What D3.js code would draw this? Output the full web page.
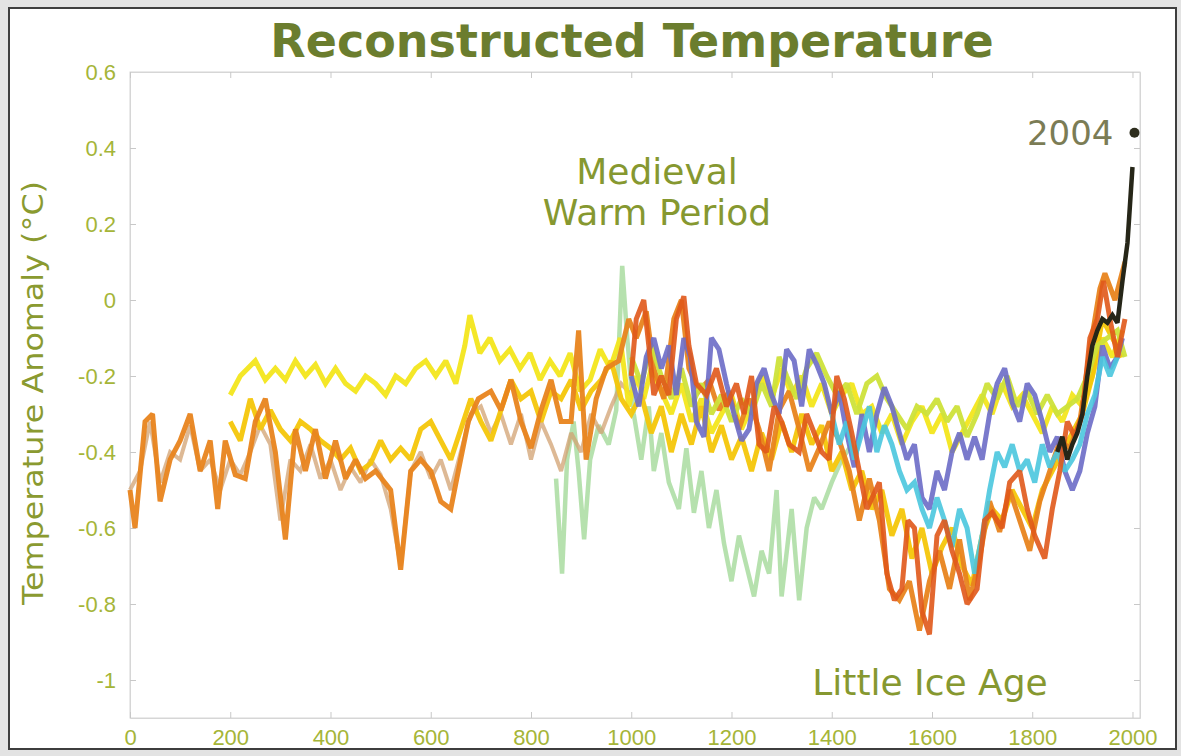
<!DOCTYPE html>
<html>
<head>
<meta charset="utf-8">
<script src="https://cdn.jsdelivr.net/npm/d3@7"></script>
<style>
  html, body { margin: 0; padding: 0; background: #e3e3e3; }
  svg { display: block; }
</style>
</head>
<body>
<svg id="chart" width="1181" height="756"></svg>
<script>
// ---- Tick labels -------------------------------------------------------
const yTicks = [-1, -0.8, -0.6, -0.4, -0.2, 0, 0.2, 0.4, 0.6];
const xTicks = [0, 200, 400, 600, 800, 1000, 1200, 1400, 1600, 1800, 2000];

// ---- Reconstructions (year, anomaly °C) --------------------------------
const tanYears = [0,20,40,60,80,100,120,140,160,180,200,220,240,260,280,300,320,340,360,380,400,420,440,460,480,500,520,540,560,580,600,620,640,660,680,700,720,740,760,780,800,820,840,860,880,900,920,940,960,980,1000];
const tanValues = [-0.5,-0.45,-0.32,-0.48,-0.4,-0.42,-0.33,-0.45,-0.42,-0.5,-0.42,-0.46,-0.4,-0.33,-0.38,-0.58,-0.42,-0.45,-0.38,-0.47,-0.42,-0.5,-0.44,-0.48,-0.42,-0.46,-0.55,-0.7,-0.45,-0.4,-0.47,-0.42,-0.5,-0.4,-0.3,-0.28,-0.35,-0.3,-0.38,-0.3,-0.42,-0.32,-0.38,-0.45,-0.35,-0.4,-0.3,-0.35,-0.28,-0.22,-0.25];

const orangeYears = [0,10,30,45,60,80,100,120,140,160,175,190,210,230,250,270,290,310,330,350,370,390,410,430,450,470,490,520,540,560,580,600,620,640,655,675,695,720,740,760,780,800,820,840,860,880,895,910,930,950,975,995,1010,1030,1045,1065,1085,1100,1115,1135,1155,1175,1195,1215,1235,1255,1275,1295,1315,1335,1355,1375,1395,1415,1435,1455,1475,1495,1515,1535,1555,1575,1595,1615,1635,1655,1675,1695,1715,1735,1755,1775,1795,1815,1835,1855,1875,1895,1915,1935,1945,1965,1985];
const orangeValues = [-0.5,-0.6,-0.32,-0.3,-0.53,-0.42,-0.37,-0.3,-0.45,-0.37,-0.55,-0.37,-0.46,-0.47,-0.32,-0.26,-0.4,-0.63,-0.34,-0.45,-0.34,-0.47,-0.37,-0.47,-0.42,-0.47,-0.45,-0.5,-0.71,-0.45,-0.42,-0.45,-0.53,-0.55,-0.45,-0.32,-0.26,-0.24,-0.29,-0.21,-0.32,-0.39,-0.29,-0.21,-0.32,-0.32,-0.08,-0.42,-0.26,-0.18,-0.16,-0.05,-0.1,-0.03,-0.18,-0.26,-0.05,0.0,-0.18,-0.24,-0.21,-0.29,-0.24,-0.34,-0.26,-0.34,-0.45,-0.29,-0.24,-0.34,-0.45,-0.39,-0.32,-0.37,-0.45,-0.58,-0.47,-0.58,-0.76,-0.79,-0.74,-0.87,-0.74,-0.66,-0.76,-0.63,-0.79,-0.68,-0.53,-0.61,-0.5,-0.58,-0.66,-0.53,-0.45,-0.37,-0.39,-0.32,-0.13,0.03,0.07,0.0,0.1];

const yellowYears = [200,220,250,270,290,310,330,350,370,390,410,430,450,470,490,510,530,550,570,590,610,630,650,668,678,698,718,738,758,778,798,818,838,858,878,898,918,938,958,978,995,1010,1025,1040,1060,1080,1100,1120,1140,1160,1180,1200,1220,1240,1260,1280,1300,1320,1340,1360,1380,1400,1420,1440,1460,1480,1500,1520,1540,1560,1580,1600,1620,1640,1660,1680,1700,1720,1740,1760,1780,1800,1820,1840,1860,1880,1900,1920,1940,1960,1980];
const yellowValues = [-0.25,-0.2,-0.16,-0.21,-0.18,-0.21,-0.16,-0.2,-0.17,-0.22,-0.18,-0.22,-0.24,-0.2,-0.22,-0.25,-0.2,-0.22,-0.18,-0.16,-0.2,-0.16,-0.22,-0.12,-0.04,-0.14,-0.1,-0.16,-0.13,-0.18,-0.14,-0.21,-0.16,-0.2,-0.14,-0.24,-0.21,-0.13,-0.18,-0.1,-0.28,-0.2,-0.26,-0.18,-0.24,-0.3,-0.22,-0.32,-0.26,-0.35,-0.3,-0.25,-0.34,-0.28,-0.2,-0.26,-0.18,-0.25,-0.2,-0.28,-0.22,-0.3,-0.25,-0.22,-0.3,-0.28,-0.35,-0.3,-0.38,-0.32,-0.28,-0.35,-0.3,-0.4,-0.35,-0.3,-0.25,-0.3,-0.22,-0.28,-0.25,-0.3,-0.35,-0.28,-0.32,-0.25,-0.28,-0.2,-0.1,-0.15,-0.08];

const amberYears = [200,220,240,260,280,300,320,340,360,380,400,420,440,460,480,500,520,540,560,580,600,620,640,660,680,700,720,740,760,780,800,820,840,860,880,900,920,940,960,980,1000,1020,1040,1060,1080,1100,1120,1140,1160,1180,1200,1220,1240,1260,1280,1300,1320,1340,1360,1380,1400,1420,1440,1460,1480,1500,1520,1540,1560,1580,1600,1620,1640,1660,1680,1700,1720,1740,1760,1780,1800,1820,1840,1860,1880,1900,1920,1940,1960,1980];
const amberValues = [-0.32,-0.37,-0.26,-0.34,-0.29,-0.34,-0.37,-0.32,-0.34,-0.37,-0.39,-0.42,-0.39,-0.45,-0.43,-0.37,-0.42,-0.39,-0.42,-0.34,-0.32,-0.37,-0.42,-0.34,-0.26,-0.32,-0.37,-0.29,-0.21,-0.26,-0.24,-0.32,-0.24,-0.26,-0.21,-0.29,-0.24,-0.21,-0.16,-0.26,-0.3,-0.25,-0.35,-0.28,-0.4,-0.3,-0.38,-0.28,-0.4,-0.33,-0.42,-0.36,-0.45,-0.35,-0.42,-0.32,-0.4,-0.3,-0.38,-0.33,-0.45,-0.4,-0.5,-0.45,-0.55,-0.5,-0.62,-0.55,-0.68,-0.6,-0.72,-0.65,-0.6,-0.7,-0.75,-0.62,-0.55,-0.58,-0.5,-0.55,-0.6,-0.5,-0.45,-0.4,-0.35,-0.3,-0.2,-0.05,-0.1,-0.15];

const greenYears = [850,862,872,885,895,906,918,935,955,970,982,992,1005,1020,1035,1045,1060,1075,1095,1110,1125,1140,1155,1170,1185,1200,1215,1230,1245,1260,1275,1290,1300,1320,1335,1350,1365,1380,1400,1420,1440];
const greenValues = [-0.47,-0.72,-0.42,-0.32,-0.45,-0.63,-0.42,-0.33,-0.38,-0.29,0.09,-0.1,-0.3,-0.42,-0.28,-0.45,-0.35,-0.48,-0.55,-0.39,-0.56,-0.45,-0.6,-0.5,-0.64,-0.74,-0.62,-0.7,-0.78,-0.66,-0.72,-0.5,-0.78,-0.55,-0.79,-0.6,-0.52,-0.55,-0.48,-0.42,-0.38];

const blueYears = [1000,1015,1030,1045,1060,1075,1090,1105,1118,1130,1145,1160,1175,1190,1205,1220,1235,1250,1265,1280,1295,1310,1325,1340,1355,1370,1385,1400,1415,1430,1445,1460,1475,1490,1505,1520,1535,1550,1565,1580,1595,1610,1625,1640,1655,1670,1685,1700,1715,1730,1745,1760,1775,1790,1805,1820,1835,1850,1865,1880,1895,1910,1925,1940,1955,1970,1980];
const blueValues = [-0.2,-0.28,-0.15,-0.1,-0.18,-0.12,-0.25,-0.1,-0.15,-0.32,-0.36,-0.1,-0.13,-0.22,-0.3,-0.37,-0.34,-0.22,-0.18,-0.25,-0.3,-0.13,-0.16,-0.28,-0.13,-0.17,-0.22,-0.3,-0.24,-0.35,-0.44,-0.3,-0.4,-0.3,-0.23,-0.28,-0.35,-0.42,-0.38,-0.52,-0.55,-0.45,-0.5,-0.4,-0.35,-0.42,-0.36,-0.42,-0.3,-0.22,-0.18,-0.27,-0.32,-0.22,-0.25,-0.32,-0.4,-0.36,-0.45,-0.5,-0.45,-0.35,-0.28,-0.12,-0.18,-0.15,-0.1];

const cyanYears = [1400,1415,1430,1445,1460,1475,1490,1505,1520,1535,1550,1565,1580,1595,1610,1625,1640,1655,1670,1685,1700,1715,1730,1745,1760,1775,1790,1805,1820,1835,1850,1865,1880,1895,1910,1925,1940,1955,1970];
const cyanValues = [-0.3,-0.38,-0.32,-0.42,-0.35,-0.28,-0.4,-0.33,-0.38,-0.45,-0.5,-0.48,-0.55,-0.6,-0.52,-0.58,-0.65,-0.55,-0.6,-0.72,-0.62,-0.5,-0.4,-0.44,-0.38,-0.45,-0.42,-0.48,-0.38,-0.44,-0.4,-0.45,-0.42,-0.38,-0.3,-0.25,-0.15,-0.2,-0.15];

const limeYears = [1000,1020,1040,1060,1080,1100,1120,1140,1160,1180,1200,1220,1240,1260,1280,1295,1310,1330,1350,1370,1390,1410,1430,1450,1470,1490,1510,1530,1550,1570,1590,1610,1630,1650,1670,1690,1710,1730,1750,1770,1790,1810,1830,1850,1870,1890,1910,1930,1950,1970,1985];
const limeValues = [-0.15,-0.22,-0.12,-0.2,-0.26,-0.18,-0.28,-0.22,-0.3,-0.25,-0.32,-0.26,-0.3,-0.22,-0.28,-0.15,-0.2,-0.26,-0.18,-0.14,-0.2,-0.25,-0.22,-0.3,-0.22,-0.2,-0.26,-0.3,-0.34,-0.28,-0.3,-0.26,-0.32,-0.28,-0.36,-0.3,-0.22,-0.26,-0.2,-0.28,-0.24,-0.3,-0.25,-0.3,-0.28,-0.26,-0.2,-0.12,-0.1,-0.08,-0.15];

const redYears = [1000,1010,1025,1035,1045,1060,1075,1090,1105,1115,1130,1150,1170,1190,1210,1225,1240,1255,1270,1285,1300,1315,1335,1350,1365,1380,1395,1410,1425,1440,1455,1470,1495,1510,1525,1540,1552,1565,1580,1595,1610,1625,1640,1655,1670,1690,1705,1720,1740,1755,1775,1790,1805,1825,1840,1855,1870,1885,1900,1915,1930,1942,1955,1970,1985];
const redValues = [-0.2,-0.05,0.0,-0.12,-0.25,-0.2,-0.25,-0.05,0.01,-0.12,-0.22,-0.25,-0.18,-0.28,-0.22,-0.3,-0.2,-0.38,-0.4,-0.28,-0.32,-0.38,-0.4,-0.3,-0.35,-0.4,-0.42,-0.2,-0.26,-0.35,-0.45,-0.55,-0.48,-0.72,-0.79,-0.76,-0.58,-0.6,-0.82,-0.88,-0.62,-0.58,-0.66,-0.72,-0.8,-0.76,-0.58,-0.56,-0.6,-0.48,-0.45,-0.55,-0.62,-0.68,-0.55,-0.45,-0.32,-0.36,-0.3,-0.1,-0.05,0.05,-0.05,-0.15,-0.05];

const instrumentalYears = [1850,1860,1870,1880,1890,1900,1910,1920,1930,1940,1950,1960,1970,1980,1990,2000];
const instrumentalValues = [-0.4,-0.36,-0.42,-0.38,-0.35,-0.3,-0.2,-0.12,-0.08,-0.05,-0.06,-0.04,-0.06,0.05,0.15,0.35];

const latestYear = [2004];
const latestValue = [0.44];

// Series table: drawing order, colour and stroke per reconstruction
const series = [
  { years: greenYears,  values: greenValues,  color: "#a9dca0", width: 4.5, opacity: 0.85 },
  { years: tanYears,    values: tanValues,    color: "#d2a272", width: 4,   opacity: 0.75 },
  { years: yellowYears, values: yellowValues, color: "#f3e61c", width: 5,   opacity: 0.95 },
  { years: amberYears,  values: amberValues,  color: "#f4c60a", width: 5,   opacity: 0.95 },
  { years: orangeYears, values: orangeValues, color: "#e8841e", width: 5,   opacity: 0.95 },
  { years: limeYears,   values: limeValues,   color: "#cde23a", width: 5,   opacity: 0.95 },
  { years: blueYears,   values: blueValues,   color: "#6c6cc6", width: 5,   opacity: 0.9 },
  { years: cyanYears,   values: cyanValues,   color: "#4ac6de", width: 5,   opacity: 0.9 },
  { years: redYears,    values: redValues,    color: "#e0581a", width: 5,   opacity: 0.9 },
  { years: instrumentalYears, values: instrumentalValues, color: "#262618", width: 4.5, opacity: 1 }
];

// ---- Layout -------------------------------------------------------------
const svg = d3.select("#chart");
const W = 1181, H = 756;
const plot = { left: 130, right: 1140, top: 72, bottom: 718 };

// page frame
svg.append("rect").attr("x", 0).attr("y", 0).attr("width", W).attr("height", H).attr("fill", "#e3e3e3");
svg.append("rect").attr("x", 9).attr("y", 8).attr("width", 1167).attr("height", 741)
  .attr("fill", "#ffffff").attr("stroke", "#3e3e3e").attr("stroke-width", 2);

const x = d3.scaleLinear().domain([0, 2015]).range([plot.left, plot.right]);
const y = d3.scaleLinear().domain([-1.1, 0.6]).range([plot.bottom, plot.top]);

// plot box
svg.append("rect")
  .attr("x", plot.left).attr("y", plot.top)
  .attr("width", plot.right - plot.left).attr("height", plot.bottom - plot.top)
  .attr("fill", "none").attr("stroke", "#d6d6d6").attr("stroke-width", 1);

const labelColor = "#a5b538";
const fmtY = d => d === 0 ? "0" : (d === -1 ? "-1" : d.toFixed(1));

// left axis
const yAxis = svg.append("g").attr("transform", `translate(${plot.left},0)`)
  .call(d3.axisLeft(y).tickValues(yTicks).tickFormat(fmtY).tickSizeInner(-6).tickSizeOuter(0).tickPadding(14));
yAxis.select(".domain").attr("stroke", "#d6d6d6");
yAxis.selectAll(".tick line").attr("stroke", "#c8c8c8");
yAxis.selectAll(".tick text").attr("fill", labelColor)
  .style("font-family", "'Liberation Sans', Arial, sans-serif").style("font-size", "22px");

// right axis ticks (inward, no labels)
const yAxisR = svg.append("g").attr("transform", `translate(${plot.right},0)`)
  .call(d3.axisRight(y).tickValues(yTicks).tickFormat("").tickSizeInner(-6).tickSizeOuter(0));
yAxisR.select(".domain").attr("stroke", "#d6d6d6");
yAxisR.selectAll(".tick line").attr("stroke", "#c8c8c8");

// bottom axis
const xAxis = svg.append("g").attr("transform", `translate(0,${plot.bottom})`)
  .call(d3.axisBottom(x).tickValues(xTicks).tickFormat(d3.format("d")).tickSizeInner(-6).tickSizeOuter(0).tickPadding(11));
xAxis.select(".domain").attr("stroke", "#d6d6d6");
xAxis.selectAll(".tick line").attr("stroke", "#c8c8c8");
xAxis.selectAll(".tick text").attr("fill", labelColor)
  .style("font-family", "'Liberation Sans', Arial, sans-serif").style("font-size", "22px");

// top axis ticks
const xAxisT = svg.append("g").attr("transform", `translate(0,${plot.top})`)
  .call(d3.axisTop(x).tickValues(xTicks).tickFormat("").tickSizeInner(-6).tickSizeOuter(0));
xAxisT.select(".domain").attr("stroke", "#d6d6d6");
xAxisT.selectAll(".tick line").attr("stroke", "#c8c8c8");

// ---- Series ---------------------------------------------------------------
const line = d3.line().x(d => x(d[0])).y(d => y(d[1])).curve(d3.curveLinear);
const g = svg.append("g");
series.forEach(s => {
  const pts = s.years.map((yr, i) => [yr, s.values[i]]);
  g.append("path").datum(pts)
    .attr("d", line)
    .attr("fill", "none")
    .attr("stroke", s.color)
    .attr("stroke-width", s.width)
    .attr("stroke-opacity", s.opacity)
    .attr("stroke-linejoin", "miter")
    .attr("stroke-miterlimit", 2);
});

// 2004 marker
svg.append("circle")
  .attr("cx", x(latestYear[0])).attr("cy", y(latestValue[0])).attr("r", 5)
  .attr("fill", "#2e2e1e");
svg.append("text")
  .attr("x", x(latestYear[0]) - 21).attr("y", y(latestValue[0]))
  .attr("dy", "0.36em").attr("text-anchor", "end")
  .attr("fill", "#7b7c55")
  .style("font-family", "'DejaVu Sans', Verdana, sans-serif").style("font-size", "34px")
  .text(String(latestYear[0]));

// ---- Titles and annotations -----------------------------------------------
svg.append("text")
  .attr("x", 632).attr("y", 57).attr("text-anchor", "middle")
  .attr("fill", "#6b7d2e")
  .style("font-family", "'DejaVu Sans', Verdana, sans-serif").style("font-size", "46px")
  .style("font-weight", "bold")
  .text("Reconstructed Temperature");

svg.append("text")
  .attr("transform", "translate(43,393) rotate(-90)")
  .attr("text-anchor", "middle")
  .attr("fill", "#8a9a30")
  .attr("textLength", 424).attr("lengthAdjust", "spacingAndGlyphs")
  .style("font-family", "'DejaVu Sans', Verdana, sans-serif").style("font-size", "28px")
  .text("Temperature Anomaly (°C)");

const annoStyle = sel => sel.attr("text-anchor", "middle").attr("fill", "#869830")
  .style("font-family", "'DejaVu Sans', Verdana, sans-serif").style("font-size", "36px");
annoStyle(svg.append("text").attr("x", 657).attr("y", 184)).text("Medieval");
annoStyle(svg.append("text").attr("x", 657).attr("y", 225)).text("Warm Period");
annoStyle(svg.append("text").attr("x", 930).attr("y", 695)).text("Little Ice Age");
</script>
</body>
</html>
